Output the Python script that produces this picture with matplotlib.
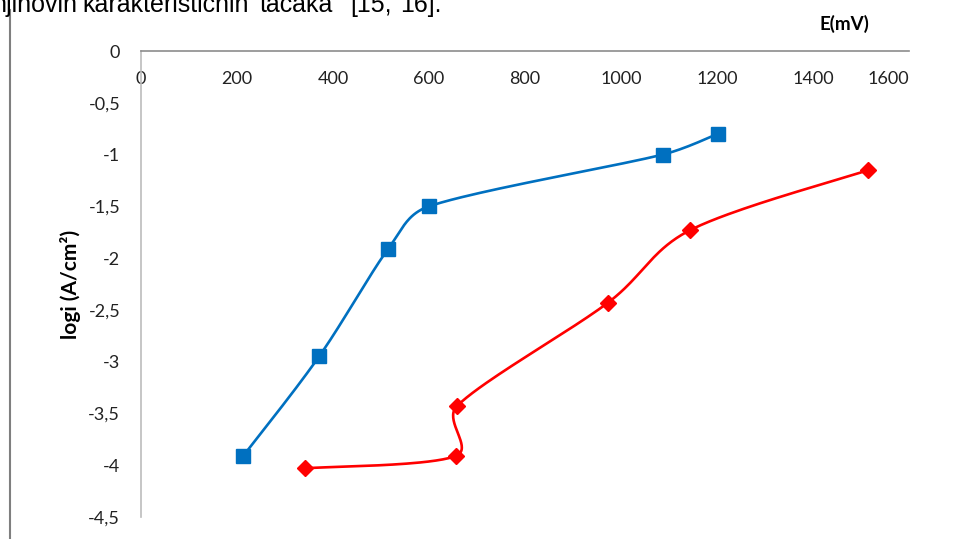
import numpy as np
import matplotlib
matplotlib.use('Agg')
from matplotlib import pyplot as plt
from matplotlib.lines import Line2D

# podaci očitani sa grafika
e_blue = [213, 371, 515, 600, 1087, 1202]
logi_blue = [-3.91, -2.95, -1.91, -1.50, -1.00, -0.80]

e_red = [342, 656, 658, 973, 1144, 1515]
logi_red = [-4.03, -3.91, -3.43, -2.43, -1.73, -1.15]

x_ticks = [0, 200, 400, 600, 800, 1000, 1200, 1400, 1600]
y_ticks = [0, -0.5, -1, -1.5, -2, -2.5, -3, -3.5, -4, -4.5]
y_labels = ['0', '-0,5', '-1', '-1,5', '-2', '-2,5', '-3', '-3,5', '-4', '-4,5']

W, H = 954, 539
fig = plt.figure(figsize=(W / 100, H / 100), dpi=100)
ax = fig.add_axes([141 / W, 1 - 517 / H, (909 - 141) / W, (517 - 51) / H])
ax.set_xlim(0, 1600)
ax.set_ylim(-4.5, 0)


def smooth(xs, ys, n=40):
    # glatka kriva kao u Excelu (Bezier sa tangentama), racunato u pikselima
    pts = ax.transData.transform(np.column_stack([xs, ys]))
    p = np.vstack([pts[0], pts, pts[-1]])
    out = []
    t = np.linspace(0, 1, n)[:, None]

    def cap(v, L):
        d = np.hypot(*v)
        return v if d <= L or d == 0 else v * L / d

    for i in range(1, len(p) - 2):
        p0, p3 = p[i], p[i + 1]
        L = 0.4 * np.hypot(*(p3 - p0))
        c1 = p0 + cap((p[i + 1] - p[i - 1]) / 6, L)
        c2 = p3 - cap((p[i + 2] - p[i]) / 6, L)
        seg = (1 - t) ** 3 * p0 + 3 * (1 - t) ** 2 * t * c1 + 3 * (1 - t) * t ** 2 * c2 + t ** 3 * p3
        out.append(seg)
    out = np.vstack(out)
    d = ax.transData.inverted().transform(out)
    return d[:, 0], d[:, 1]


bx, by = smooth(e_blue, logi_blue)
rx, ry = smooth(e_red, logi_red)
ax.plot(bx, by, color='#0070C0', lw=1.9, zorder=3)
ax.plot(e_blue, logi_blue, 's', color='#0070C0', ms=10, zorder=4)
ax.plot(rx, ry, color='#FF0000', lw=1.9, zorder=3)
ax.plot(e_red, logi_red, 'D', color='#FF0000', ms=8, zorder=4)

font = 'Lato'
ax.spines['bottom'].set_visible(False)
ax.spines['right'].set_visible(False)
ax.spines['top'].set_color('#8c8c8c')
ax.spines['left'].set_color('#bcbcbc')
ax.spines['top'].set_linewidth(1.2)
ax.spines['left'].set_linewidth(1.2)

ax.xaxis.tick_top()
ax.set_xticks(x_ticks)
ax.set_xticklabels([str(v) for v in x_ticks], fontfamily=font, fontsize=13)
ax.tick_params(axis='x', length=0, pad=-26, labelcolor='#222222')
ax.xaxis.get_major_ticks()[-1].label2.set_horizontalalignment('right')

ax.set_yticks(y_ticks)
ax.set_yticklabels(y_labels, fontfamily=font, fontsize=13)
ax.tick_params(axis='y', length=0, pad=15, labelcolor='#222222')
ax.set_ylabel('logi (A/cm²)', fontfamily=font, fontsize=15, fontweight='bold', labelpad=5)

fig.text(844 / W, 1 - 24 / H, 'E(mV)', fontfamily=font, fontsize=13.5, fontweight='bold',
         ha='center', va='center')

# tekst dokumenta iznad grafika (obostrano poravnat, odsecen)
doc_words = ['njihovih', 'karakterističnih', 'tačaka', '[15,', '16].']
doc_x = [-8, 82, 260, 350, 442]
for k, (w, xp) in enumerate(zip(doc_words, doc_x)):
    fig.text(xp / W, 1 - 12 / H, w, fontfamily='Liberation Sans', fontsize=18,
             ha='right' if k == len(doc_words) - 1 else 'left', va='baseline')

# ivica stranice
fig.add_artist(Line2D([10 / W, 10 / W], [0, 1 - 10 / H], color='#7f7f7f', lw=1.5))

fig.savefig('out.png', dpi=100)
